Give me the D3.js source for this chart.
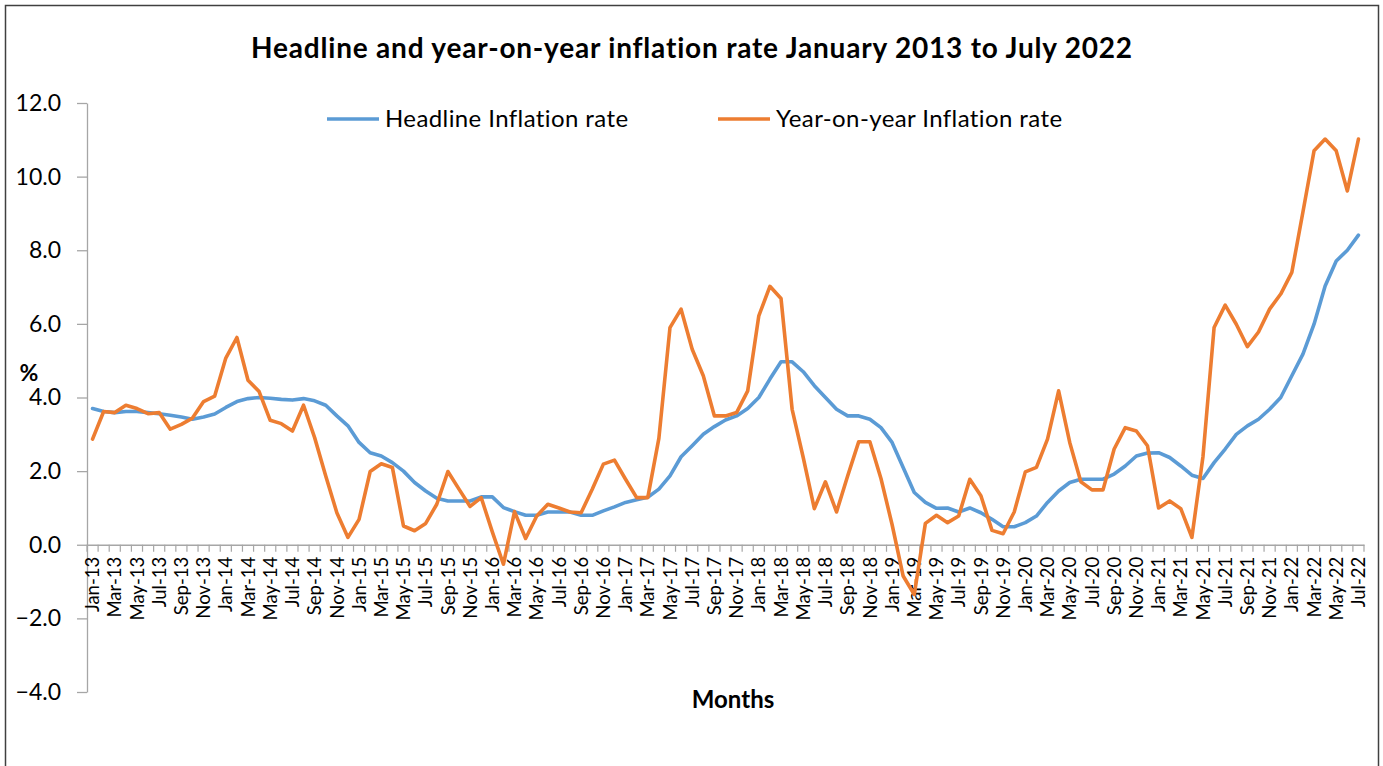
<!DOCTYPE html>
<html>
<head>
<meta charset="utf-8">
<script src="https://cdn.jsdelivr.net/npm/d3@7"></script>
<style>
  html, body { margin: 0; padding: 0; background: #fff; }
  svg { display: block; font-family: Lato, "Open Sans", sans-serif; }
</style>
</head>
<body>
<svg id="chart" width="1383" height="766"></svg>
<script>
const monthNames = ["Jan","Feb","Mar","Apr","May","Jun","Jul","Aug","Sep","Oct","Nov","Dec"];
const startYear = 13, monthCount = 115;
const months = [];
for (let i = 0; i < monthCount; i++) {
  months.push(monthNames[i % 12] + "-" + (startYear + Math.floor(i / 12)));
}

const headline = [
  3.70, 3.62, 3.59, 3.62, 3.62, 3.59, 3.56, 3.52, 3.47, 3.41, 3.47, 3.55,
  3.73, 3.89, 3.97, 4.00, 3.98, 3.95, 3.93, 3.97, 3.91, 3.79, 3.50, 3.23,
  2.78, 2.50, 2.41, 2.23, 2.00, 1.69, 1.46, 1.26, 1.19, 1.19, 1.19, 1.30,
  1.30, 1.01, 0.90, 0.80, 0.80, 0.89, 0.89, 0.89, 0.80, 0.80, 0.92, 1.03,
  1.15, 1.22, 1.29, 1.51, 1.87, 2.39, 2.69, 3.00, 3.21, 3.39, 3.50, 3.70,
  4.00, 4.50, 4.97, 4.97, 4.70, 4.32, 4.00, 3.68, 3.50, 3.50, 3.41, 3.18,
  2.78, 2.10, 1.42, 1.15, 0.99, 1.00, 0.89, 1.00, 0.87, 0.69, 0.49, 0.49,
  0.60, 0.78, 1.15, 1.46, 1.69, 1.78, 1.78, 1.78, 1.92, 2.14, 2.41, 2.49,
  2.50, 2.37, 2.14, 1.89, 1.80, 2.23, 2.60, 3.00, 3.23, 3.41, 3.68, 4.00,
  4.59, 5.18, 5.99, 7.03, 7.71, 8.00, 8.41
];

const yoy = [
  2.87, 3.62, 3.59, 3.79, 3.70, 3.56, 3.59, 3.14, 3.27, 3.44, 3.89, 4.04,
  5.07, 5.63, 4.47, 4.16, 3.38, 3.29, 3.09, 3.79, 2.91, 1.87, 0.87, 0.20,
  0.69, 1.99, 2.20, 2.10, 0.51, 0.38, 0.58, 1.10, 1.99, 1.51, 1.04, 1.28,
  0.35, -0.53, 0.90, 0.17, 0.78, 1.10, 1.00, 0.89, 0.87, 1.51, 2.19, 2.30,
  1.78, 1.28, 1.28, 2.89, 5.90, 6.40, 5.31, 4.59, 3.50, 3.50, 3.59, 4.18,
  6.22, 7.02, 6.69, 3.68, 2.37, 0.98, 1.71, 0.89, 1.87, 2.80, 2.80, 1.80,
  0.55, -0.85, -1.35, 0.58, 0.80, 0.60, 0.78, 1.78, 1.33, 0.39, 0.30, 0.89,
  1.98, 2.10, 2.87, 4.18, 2.78, 1.71, 1.49, 1.49, 2.60, 3.18, 3.09, 2.69,
  1.00, 1.19, 0.98, 0.20, 2.40, 5.90, 6.51, 5.99, 5.38, 5.78, 6.40, 6.81,
  7.40, 9.04, 10.70, 11.02, 10.70, 9.61, 11.02
];

const yTicks = [-4, -2, 0, 2, 4, 6, 8, 10, 12];
const seriesNames = ["Headline Inflation rate", "Year-on-year Inflation rate"];
const seriesColors = ["#5B9BD5", "#ED7D31"];
const titleText = "Headline and year-on-year inflation rate January 2013 to July 2022";
const yTitle = "%";
const xTitle = "Months";

const svg = d3.select("#chart");

// outer frame
svg.append("rect").attr("x", 5.5).attr("y", 5.5).attr("width", 1373).attr("height", 800)
  .attr("fill", "#fff").attr("stroke", "#404040").attr("stroke-width", 1.5);

const plotLeft = 87, plotRight = 1364, plotTop = 103, plotBottom = 692;
const x = d3.scaleBand().domain(months).range([plotLeft, plotRight]).padding(0);
const y = d3.scaleLinear().domain([-4, 12]).range([plotBottom, plotTop]);

// Y axis
const yAxis = d3.axisLeft(y).tickValues(yTicks).tickFormat(d3.format(".1f")).tickSize(10).tickSizeOuter(0);
const gy = svg.append("g").attr("transform", `translate(${plotLeft},0)`).call(yAxis);
gy.select(".domain").attr("stroke", "#a6a6a6").attr("stroke-width", 1.3);
gy.selectAll(".tick line").attr("stroke", "#a6a6a6").attr("stroke-width", 1.3);
gy.selectAll(".tick text").attr("x", -26).attr("font-size", 23).attr("fill", "#000")
  .attr("font-family", "Lato, 'Open Sans', sans-serif");

// X axis at y=0
const xAxis = d3.axisBottom(x).tickSize(0).tickFormat((d, i) => i % 2 === 0 ? d : "");
const gx = svg.append("g").attr("transform", `translate(0,${y(0)})`).call(xAxis);
gx.select(".domain").attr("stroke", "#a6a6a6").attr("stroke-width", 1.3);
gx.selectAll(".tick text")
  .attr("transform", "rotate(-90)")
  .attr("text-anchor", "end")
  .attr("x", -12).attr("y", 0).attr("dy", "0.36em")
  .attr("font-size", 18.5).attr("fill", "#000")
  .attr("font-family", "Lato, 'Open Sans', sans-serif");
// minor ticks at category boundaries
const boundaries = months.map(m => x(m)).concat([x(months[months.length - 1]) + x.bandwidth()]);
gx.selectAll("line.minor").data(boundaries).enter().append("line")
  .attr("class", "minor")
  .attr("x1", d => d).attr("x2", d => d)
  .attr("y1", 0).attr("y2", 7)
  .attr("stroke", "#a6a6a6").attr("stroke-width", 1.2);

// lines
const lineGen = d3.line()
  .x((d, i) => x(months[i]) + x.bandwidth() / 2)
  .y(d => y(d));
[headline, yoy].forEach((s, k) => {
  svg.append("path").datum(s)
    .attr("d", lineGen)
    .attr("fill", "none")
    .attr("stroke", seriesColors[k])
    .attr("stroke-width", 3.6)
    .attr("stroke-linejoin", "round")
    .attr("stroke-linecap", "round");
});

// title
svg.append("text").attr("x", 692).attr("y", 58).attr("text-anchor", "middle")
  .attr("font-size", 28).attr("letter-spacing", 0.8).attr("font-weight", "bold")
  .attr("fill", "#000").text(titleText);

// legend
const legendX = [327, 718];
seriesNames.forEach((n, k) => {
  svg.append("line").attr("x1", legendX[k]).attr("x2", legendX[k] + 52)
    .attr("y1", 119).attr("y2", 119)
    .attr("stroke", seriesColors[k]).attr("stroke-width", 3.6);
  svg.append("text").attr("x", legendX[k] + 58).attr("y", 127)
    .attr("font-size", 24).attr("letter-spacing", 0.4).attr("fill", "#000").text(n);
});

// axis titles
svg.append("text").attr("x", 29).attr("y", 381).attr("text-anchor", "middle")
  .attr("font-size", 23).attr("font-weight", "bold").text(yTitle);
svg.append("text").attr("x", 733).attr("y", 708).attr("text-anchor", "middle")
  .attr("font-size", 24).attr("font-weight", "bold").text(xTitle);
</script>
</body>
</html>
